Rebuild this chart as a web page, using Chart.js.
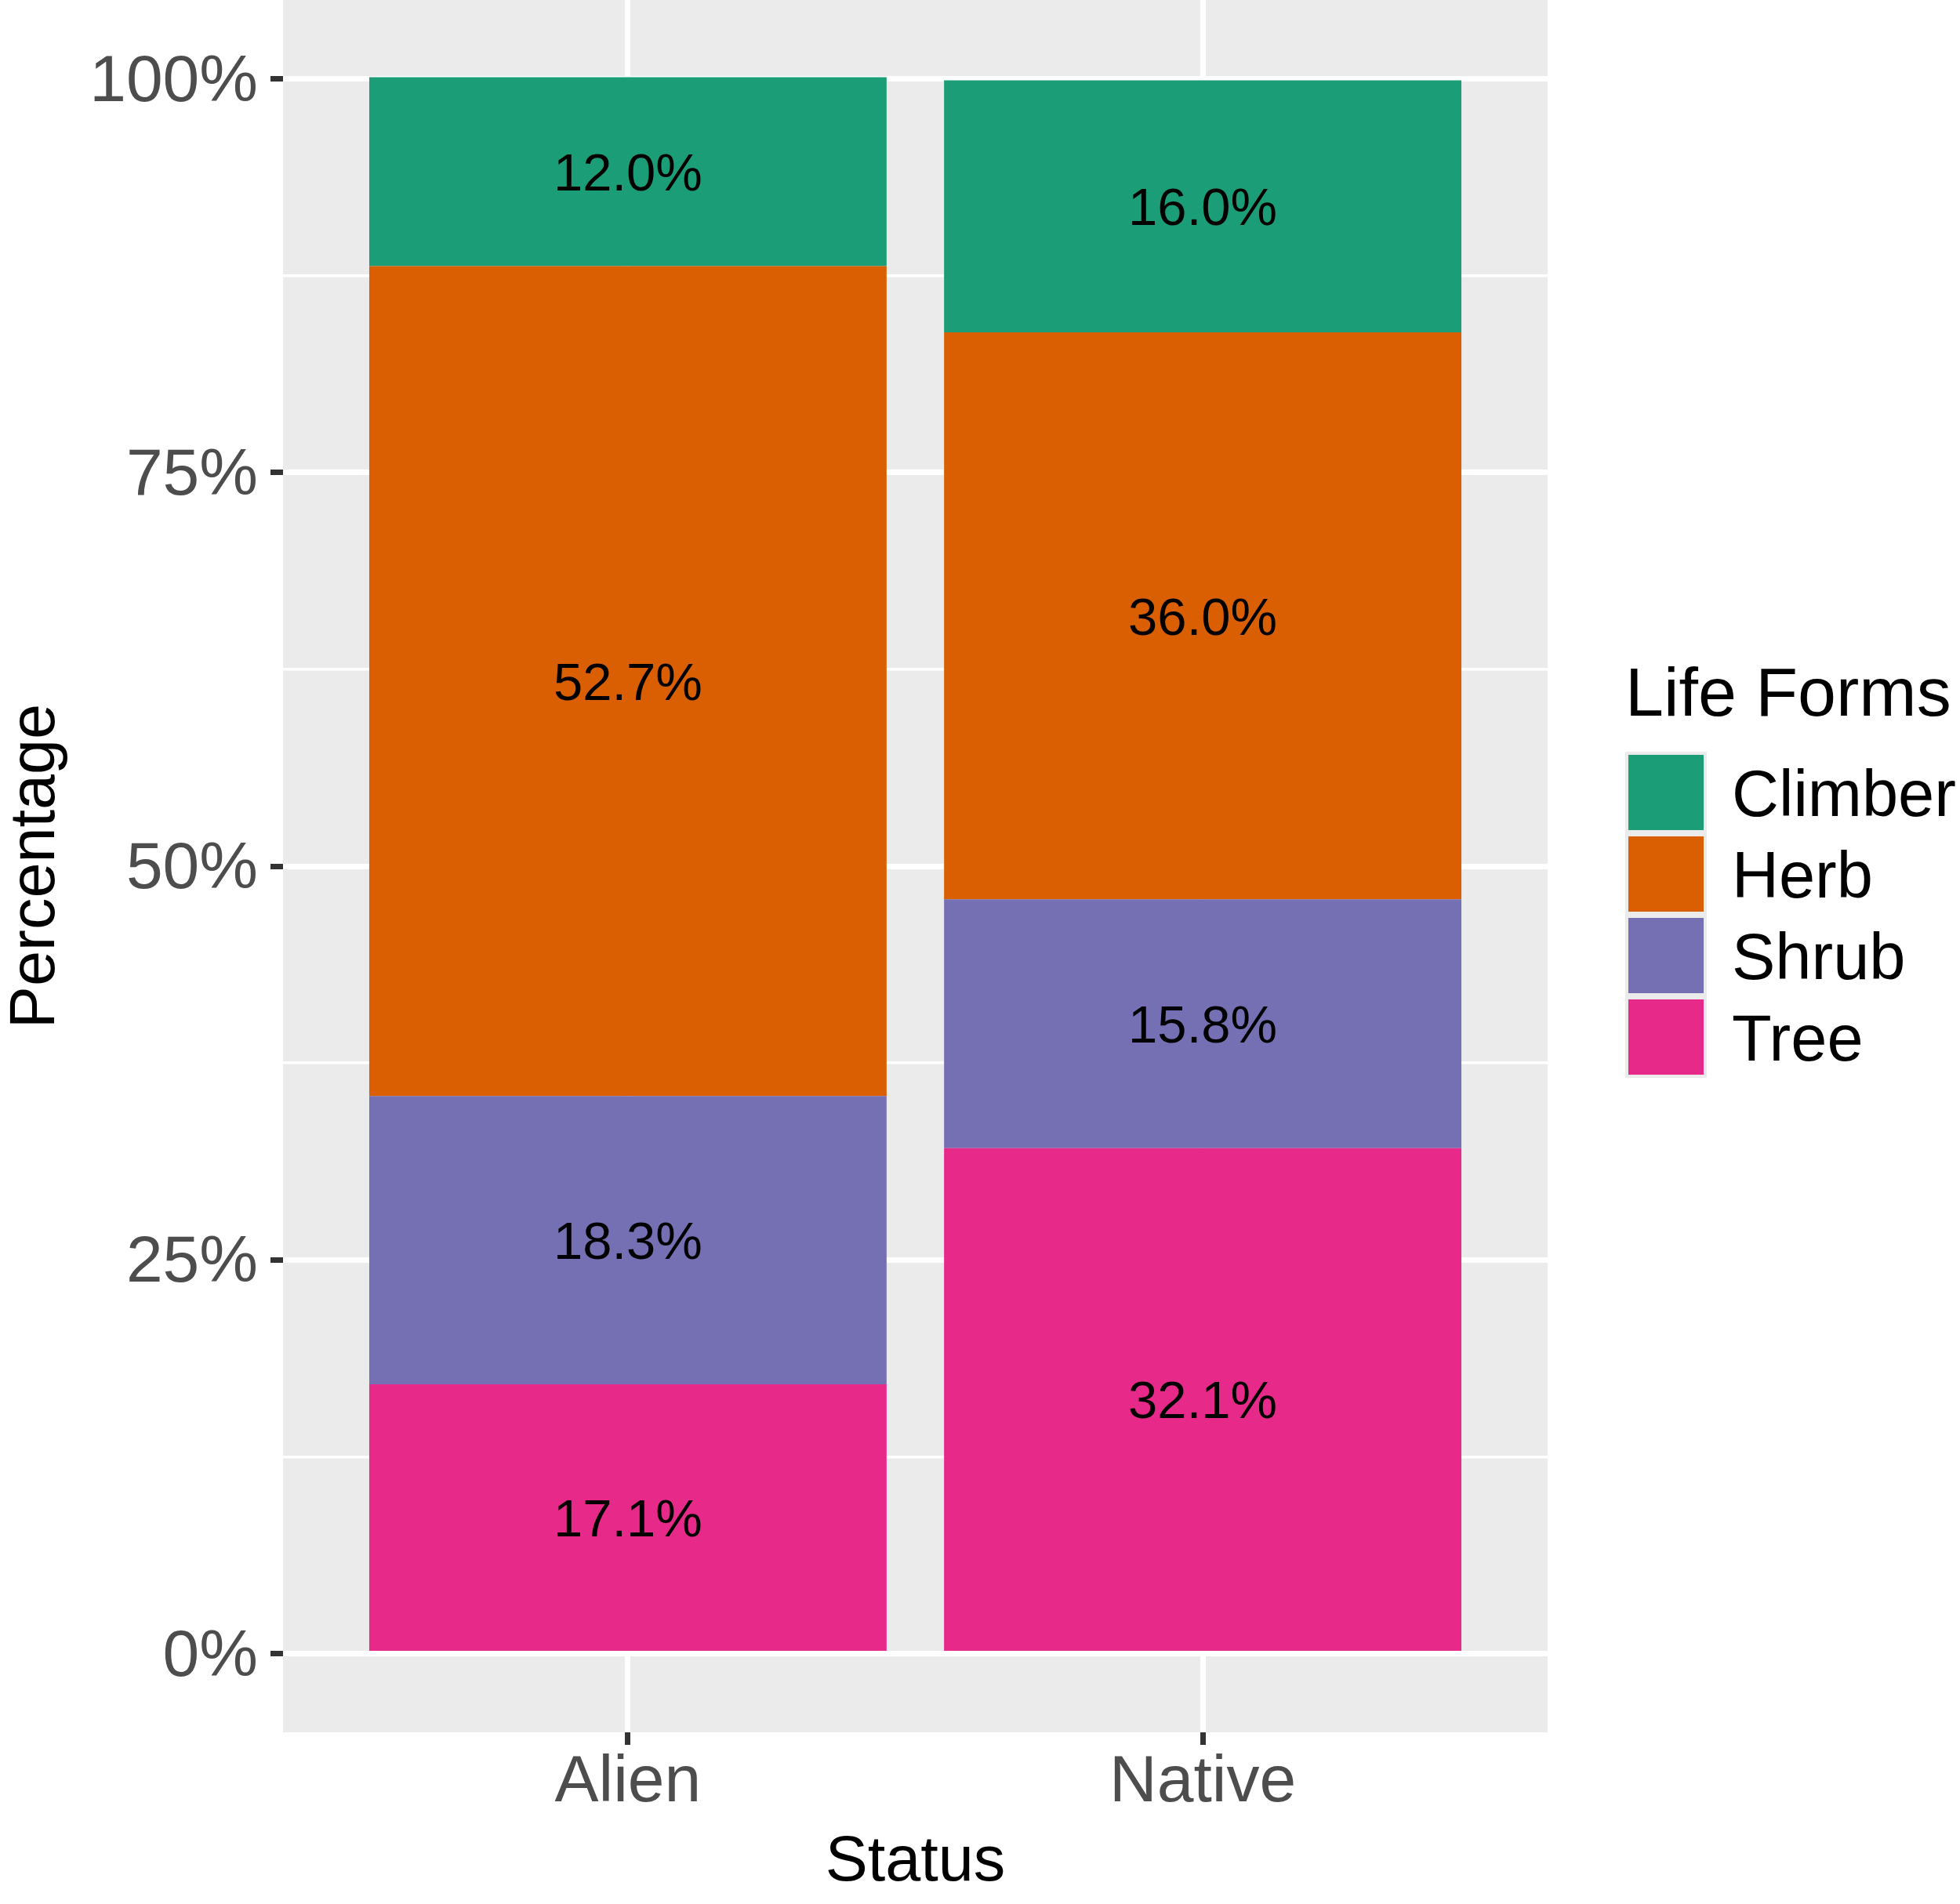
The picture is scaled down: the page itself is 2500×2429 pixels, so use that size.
<!DOCTYPE html>
<html>
<head>
<meta charset="utf-8">
<script src="https://cdn.jsdelivr.net/npm/chart.js@4.4.1/dist/chart.umd.min.js"></script>
<style>
  html, body { margin: 0; padding: 0; background: #ffffff; }
  canvas { display: block; }
</style>
</head>
<body>
<canvas id="chart" width="2500" height="2429"></canvas>
<script>
// data
const statuses = ['Alien', 'Native'];
const lifeForms = ['Tree', 'Shrub', 'Herb', 'Climber']; // bottom to top of each stack
const treePct = [17.1, 32.1];
const shrubPct = [18.3, 15.8];
const herbPct = [52.7, 36.0];
const climberPct = [12.0, 16.0];
const yTickValues = [0, 25, 50, 75, 100];
const yMinorValues = [12.5, 37.5, 62.5, 87.5];

const FONT = '"Liberation Sans", Arial, Helvetica, sans-serif';
const colors = { Tree: '#E7298A', Shrub: '#7570B3', Herb: '#D95F02', Climber: '#1B9E77' };
const seriesValues = { Tree: treePct, Shrub: shrubPct, Herb: herbPct, Climber: climberPct };

const isMajor = v => yTickValues.includes(v);

const datasets = lifeForms.map(name => ({
    label: name,
    data: seriesValues[name].map((v, i) => ({ x: i + 1, y: v })),
    backgroundColor: colors[name],
    borderWidth: 0,
    stack: 'all',
    barPercentage: 0.9,
    categoryPercentage: 1.0
}));

// grey ggplot panel behind the grid
const panelBg = {
    id: 'panelBg',
    beforeDraw(chart) {
        const { ctx, chartArea: a } = chart;
        ctx.save();
        ctx.fillStyle = '#ffffff';
        ctx.fillRect(0, 0, chart.width, chart.height);
        ctx.fillStyle = '#EBEBEB';
        ctx.fillRect(a.left, a.top, a.right - a.left, a.bottom - a.top);
        ctx.restore();
    }
};

// percentage text in the middle of each segment (digits centred on the segment)
const barLabels = {
    id: 'barLabels',
    afterDatasetsDraw(chart) {
        const ctx = chart.ctx;
        const size = 67;
        ctx.save();
        ctx.font = `${size}px ${FONT}`;
        ctx.fillStyle = '#000000';
        ctx.textAlign = 'center';
        ctx.textBaseline = 'alphabetic';
        chart.data.datasets.forEach((ds, di) => {
            chart.getDatasetMeta(di).data.forEach((bar, i) => {
                const v = ds.data[i].y;
                ctx.fillText(v.toFixed(1) + '%', bar.x, (bar.y + bar.base) / 2 + size * 0.358);
            });
        });
        ctx.restore();
    }
};

// legend on the right, ggplot style
const ggLegend = {
    id: 'ggLegend',
    afterDraw(chart) {
        const { ctx, chartArea: a } = chart;
        const midY = (a.top + a.bottom) / 2;
        const x0 = a.right + 99;
        const keyTop = midY - 146;
        const key = 104;
        ctx.save();
        ctx.fillStyle = '#000000';
        ctx.textAlign = 'left';
        ctx.textBaseline = 'alphabetic';
        ctx.font = `88px ${FONT}`;
        ctx.fillText('Life Forms', x0, keyTop - 46);

        const order = lifeForms.slice().reverse();
        ctx.fillStyle = '#EBEBEB';
        ctx.fillRect(x0, keyTop, key, key * order.length);
        ctx.font = `83px ${FONT}`;
        order.forEach((name, i) => {
            const y = keyTop + i * key;
            ctx.fillStyle = colors[name];
            ctx.fillRect(x0 + 4, y + 4, key - 8, key - 8);
            ctx.fillStyle = '#000000';
            ctx.fillText(name, x0 + 136, y + key / 2 + 30);
        });
        ctx.restore();
    }
};

new Chart(document.getElementById('chart'), {
    type: 'bar',
    data: { datasets },
    options: {
        responsive: false,
        animation: false,
        devicePixelRatio: 1,
        layout: { padding: { top: 0, left: 0, bottom: 0, right: 526 } },
        plugins: {
            legend: { display: false },
            tooltip: { enabled: false }
        },
        scales: {
            x: {
                type: 'linear',
                min: 0.4,
                max: 2.6,
                offset: false,
                stacked: true,
                afterBuildTicks: s => { s.ticks = statuses.map((_, i) => ({ value: i + 1 })); },
                ticks: {
                    callback: v => statuses[v - 1] ?? '',
                    font: { family: FONT, size: 84, lineHeight: 1 },
                    color: '#4D4D4D',
                    padding: 7,
                    maxRotation: 0,
                    autoSkip: false
                },
                grid: {
                    offset: false,
                    color: '#FFFFFF',
                    lineWidth: 7,
                    tickLength: 16,
                    tickColor: '#333333',
                    tickWidth: 7
                },
                border: { display: false },
                title: {
                    display: true,
                    text: 'Status',
                    color: '#000000',
                    font: { family: FONT, size: 81, lineHeight: 1 },
                    padding: { top: 0, bottom: 11.5 }
                },
                afterFit: s => { s.height = 219; s.paddingLeft = 0; s.paddingRight = 0; }
            },
            y: {
                type: 'linear',
                min: -5,
                max: 105,
                stacked: true,
                afterBuildTicks: s => {
                    s.ticks = [...yTickValues, ...yMinorValues].sort((p, q) => p - q).map(v => ({ value: v }));
                },
                ticks: {
                    callback: v => isMajor(v) ? v + '%' : '',
                    font: { family: FONT, size: 84, lineHeight: 1 },
                    color: '#4D4D4D',
                    padding: 16,
                    labelOffset: 5,
                    autoSkip: false
                },
                grid: {
                    color: '#FFFFFF',
                    lineWidth: c => isMajor(c.tick.value) ? 7 : 3.5,
                    tickLength: 16,
                    tickColor: c => isMajor(c.tick.value) ? '#333333' : 'rgba(0,0,0,0)',
                    tickWidth: c => isMajor(c.tick.value) ? 7 : 0
                },
                border: { display: false },
                title: {
                    display: true,
                    text: 'Percentage',
                    color: '#000000',
                    font: { family: FONT, size: 81, lineHeight: 1 },
                    padding: { top: 6.5, bottom: 0 }
                },
                afterFit: s => { s.width = 361; s.paddingTop = 0; s.paddingBottom = 0; }
            }
        }
    },
    plugins: [panelBg, barLabels, ggLegend]
});
</script>
</body>
</html>
